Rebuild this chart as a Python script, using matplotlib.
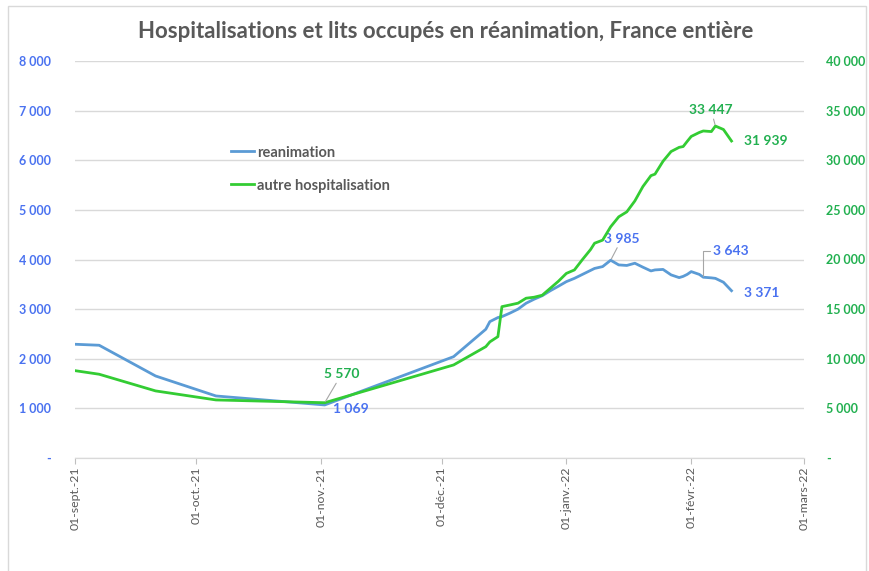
import pandas as pd
import matplotlib
matplotlib.use('Agg')
import matplotlib.pyplot as plt
from matplotlib.patches import Rectangle

plt.rcParams['font.family'] = ['Lato', 'DejaVu Sans']

# données
dates = ['2021-09-01', '2021-09-07', '2021-09-21', '2021-10-06', '2021-11-02',
         '2021-12-04', '2021-12-12', '2021-12-13', '2021-12-15', '2021-12-16',
         '2021-12-18', '2021-12-20', '2021-12-22', '2021-12-24', '2021-12-26',
         '2021-12-28', '2021-12-30', '2022-01-01', '2022-01-03', '2022-01-05',
         '2022-01-07', '2022-01-08', '2022-01-10', '2022-01-12', '2022-01-14',
         '2022-01-16', '2022-01-18', '2022-01-20', '2022-01-22', '2022-01-23',
         '2022-01-25', '2022-01-27', '2022-01-29', '2022-01-30', '2022-01-31',
         '2022-02-01', '2022-02-03', '2022-02-04', '2022-02-06', '2022-02-07',
         '2022-02-09', '2022-02-11']
reanimation = [2292, 2272, 1653, 1250, 1069,
               2042, 2595, 2748, 2830, 2849,
               2920, 3000, 3119, 3200, 3270,
               3370, 3460, 3554, 3620, 3700,
               3780, 3820, 3857, 3985, 3891,
               3880, 3925, 3845, 3770, 3790,
               3800, 3690, 3635, 3660, 3700,
               3756, 3700, 3643, 3630, 3620,
               3542, 3371]
autre_hosp = [8800, 8440, 6760, 5850, 5570,
              9375, 11220, 11700, 12230, 15250,
              15420, 15600, 16100, 16200, 16400,
              17100, 17800, 18600, 18950, 20000,
              21000, 21640, 21950, 23300, 24300,
              24800, 25900, 27350, 28450, 28600,
              29900, 30880, 31300, 31380, 31900,
              32400, 32800, 32950, 32890, 33447,
              33100, 31939]

mois = ['2021-09-01', '2021-10-01', '2021-11-01', '2021-12-01',
        '2022-01-01', '2022-02-01', '2022-03-01']
mois_labels = ['01-sept.-21', '01-oct.-21', '01-nov.-21', '01-déc.-21',
               '01-janv.-22', '01-févr.-22', '01-mars-22']

df = pd.DataFrame({'date': pd.to_datetime(dates),
                   'reanimation': reanimation,
                   'autre': autre_hosp})

bleu = '#5B9BD5'
vert = '#33CC33'
bleu_txt = '#4A72F0'
vert_txt = '#22B050'
gris = '#595959'


def fmt(v, pos=None):
    if v == 0:
        return '-'
    return f'{v:,.0f}'.replace(',', ' ')


fig = plt.figure(figsize=(8.7, 5.71), dpi=100)
fig.patches.append(Rectangle((0.009, -0.01), 0.986, 1.0, transform=fig.transFigure,
                             fill=False, edgecolor='#d9d9d9', lw=1))
ax = fig.add_axes([75 / 870, 1 - 458 / 571, 729 / 870, 397 / 571])
ax2 = ax.twinx()

l1, = ax.plot(df['date'], df['reanimation'], color=bleu, lw=2, label='reanimation')
l2, = ax2.plot(df['date'], df['autre'], color=vert, lw=2, label='autre hospitalisation')

ax.set_xlim(pd.Timestamp(mois[0]), pd.Timestamp(mois[-1]))
ax.set_ylim(0, 8000)
ax2.set_ylim(0, 40000)
ax.set_yticks(range(0, 8001, 1000))
ax2.set_yticks(range(0, 40001, 5000))
ax.yaxis.set_major_formatter(plt.FuncFormatter(fmt))
ax2.yaxis.set_major_formatter(plt.FuncFormatter(fmt))

ax.set_xticks(pd.to_datetime(mois))
ax.set_xticklabels(mois_labels, rotation=90, fontsize=8.8, color=gris)
ax.tick_params(axis='x', length=4, color='#bfbfbf', pad=2)
ax.tick_params(axis='y', length=0, pad=17, labelsize=9, labelcolor=bleu_txt)
ax2.tick_params(axis='y', length=0, pad=16, labelsize=9, labelcolor=vert_txt)
for t in ax.get_yticklabels():
    t.set_fontweight('bold')
for t in ax2.get_yticklabels():
    t.set_fontweight('bold')

ax.grid(axis='y', color='#d9d9d9', lw=1)
ax.set_axisbelow(True)
for a in (ax, ax2):
    for s in ['top', 'left', 'right']:
        a.spines[s].set_visible(False)
    a.spines['bottom'].set_color('#d9d9d9')

fig.text(0.512, 0.945, 'Hospitalisations et lits occupés en réanimation, France entière',
         ha='center', va='center', fontsize=16, fontweight='bold', color=gris)

leg = ax2.legend(handles=[l1, l2], loc='upper left', bbox_to_anchor=(0.196, 0.82),
                 frameon=False, handlelength=1.6, handletextpad=0.2,
                 labelspacing=1.3, fontsize=10.5)
for t in leg.get_texts():
    t.set_color(gris)
    t.set_fontweight('bold')

# étiquettes de données
arrow = dict(arrowstyle='-', color='#a6a6a6', lw=0.8, shrinkA=0, shrinkB=1)
d = lambda s: pd.Timestamp(s)
ax.annotate('3 985', (d('2022-01-12'), 3985), xytext=(8, 11), textcoords='offset points',
            ha='center', va='bottom', fontsize=10, fontweight='bold', color=bleu_txt,
            arrowprops=arrow)
ax.annotate('3 643', (d('2022-02-04'), 3643), xytext=(7, 19), textcoords='offset points',
            ha='left', va='center', fontsize=10, fontweight='bold', color=bleu_txt,
            arrowprops=dict(arrowstyle='-', color='#a6a6a6', lw=0.8, shrinkA=0, shrinkB=1,
                            connectionstyle='angle,angleA=0,angleB=90,rad=0'))
ax.annotate('3 371', (d('2022-02-11'), 3371), xytext=(9, -2), textcoords='offset points',
            ha='left', va='center', fontsize=10, fontweight='bold', color=bleu_txt)
ax.annotate('1 069', (d('2021-11-02'), 1069), xytext=(6, -3), textcoords='offset points',
            ha='left', va='center', fontsize=10, fontweight='bold', color=bleu_txt)
ax2.annotate('33 447', (d('2022-02-07'), 33447), xytext=(-3, 7), textcoords='offset points',
             ha='center', va='bottom', fontsize=10, fontweight='bold', color=vert_txt,
             arrowprops=arrow)
ax2.annotate('31 939', (d('2022-02-11'), 31939), xytext=(9, 0), textcoords='offset points',
             ha='left', va='center', fontsize=10, fontweight='bold', color=vert_txt)
ax2.annotate('5 570', (d('2021-11-02'), 5570), xytext=(12, 16), textcoords='offset points',
             ha='center', va='bottom', fontsize=10, fontweight='bold', color=vert_txt,
             arrowprops=arrow)

fig.savefig('out.png', dpi=100)
